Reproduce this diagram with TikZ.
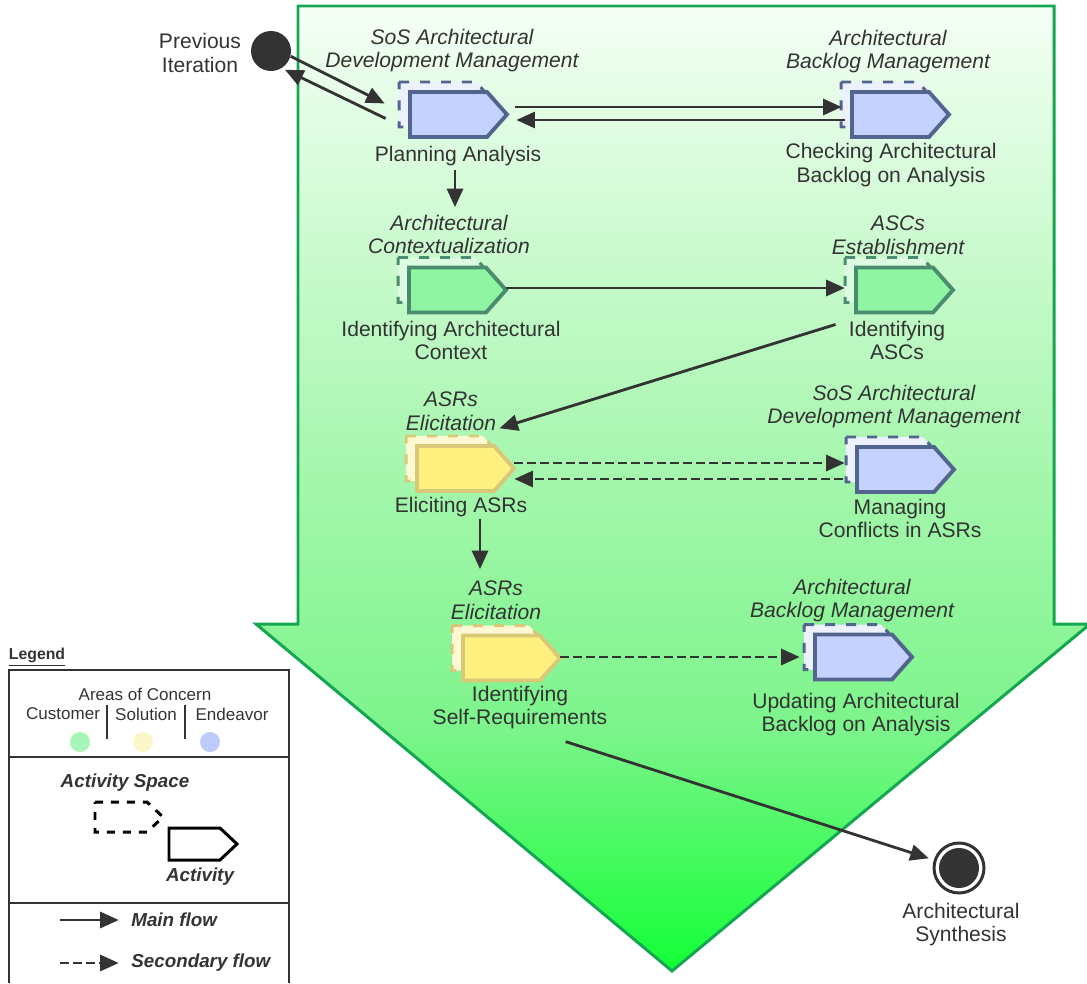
\documentclass[tikz,border=0pt]{standalone}
\usepackage{fontspec}
\setmainfont{Liberation Sans}
\usepackage{tikz}
\usetikzlibrary{calc,arrows.meta}

\definecolor{txtgray}{HTML}{333333}
\definecolor{arrowline}{HTML}{14A650}
\definecolor{arrowtop}{HTML}{F5FFF5}
\definecolor{arrowhigh}{HTML}{CBFACF}
\definecolor{arrowmid}{HTML}{A3F6AB}
\definecolor{arrowlow}{HTML}{7CF48B}
\definecolor{arrowbot}{HTML}{12FF36}
\definecolor{bluefill}{HTML}{C6D2FE}
\definecolor{blueline}{HTML}{52658F}
\definecolor{blueback}{HTML}{EDF1FD}
\definecolor{greenfill}{HTML}{8FF5A2}
\definecolor{greenline}{HTML}{4A8C6E}
\definecolor{greenback}{HTML}{DDFBE0}
\definecolor{yellowfill}{HTML}{FFF080}
\definecolor{yellowline}{HTML}{D9C878}
\definecolor{yellowback}{HTML}{FFF8D2}
\definecolor{custdot}{HTML}{A8F5B8}
\definecolor{soldot}{HTML}{FCF7C8}
\definecolor{enddot}{HTML}{BCCBFA}

\pgfdeclareverticalshading{bigarrow}{100bp}{color(0bp)=(arrowbot); color(25bp)=(arrowbot); color(37.5bp)=(arrowlow); color(50bp)=(arrowmid); color(62.5bp)=(arrowhigh); color(75bp)=(arrowtop); color(100bp)=(arrowtop)}

% name, position, fill, border, back fill
\newcommand{\actshape}[5]{%
  \begin{scope}[shift={#2}]
    \draw[#4, fill=#5, line width=1.7pt, dash pattern=on 0.2cm off 0.22cm]
      (-11,-32.5) -- (66,-32.5) -- (86,-10) -- (66,12.5) -- (-11,12.5) -- cycle;
    \draw[#4, fill=#3, line width=2.2pt]
      (0,-22.5) -- (77,-22.5) -- (97,0) -- (77,22.5) -- (0,22.5) -- cycle;
    \node[inner sep=0pt, minimum width=1.94cm, minimum height=0.9cm] (#1) at (48.5,0) {};
  \end{scope}}

\tikzset{
  acttitle/.style={font=\fontsize{12}{13.6}\selectfont\itshape, text=txtgray, align=center, inner sep=0pt},
  actname/.style={font=\fontsize{12}{13.6}\selectfont, text=txtgray, align=center, inner sep=0pt},
  legtext/.style={font=\fontsize{9.7}{11}\selectfont, text=txtgray, inner sep=0pt},
  legbold/.style={font=\fontsize{10.7}{12}\selectfont\bfseries\itshape, text=txtgray, inner sep=0pt},
  mainflow/.style={draw=txtgray, line width=1.6pt, -{Triangle[length=0.37cm, width=0.32cm]}},
  subflow/.style={mainflow, dash pattern=on 0.18cm off 0.08cm}
}

\begin{document}
\begin{tikzpicture}[x=0.02cm, y=-0.02cm]
    \useasboundingbox (0,0) rectangle (1087,983);

    \shade[shading=bigarrow] (298,6) -- (1054,6) -- (1054,624) -- (1090,624) -- (672,971) -- (256,624) -- (298,624) -- cycle;
    \draw[arrowline, line width=1.7pt] (298,6) -- (1054,6) -- (1054,624) -- (1090,624) -- (672,971) -- (256,624) -- (298,624) -- cycle;

    \actshape{plan}{(410,114.5)}{bluefill}{blueline}{blueback}
    \actshape{check}{(852,114.5)}{bluefill}{blueline}{blueback}
    \actshape{ctx}{(409,290)}{greenfill}{greenline}{greenback}
    \actshape{asc}{(856,290)}{greenfill}{greenline}{greenback}
    \actshape{elicit}{(417,468.5)}{yellowfill}{yellowline}{yellowback}
    \actshape{conflict}{(857,469.5)}{bluefill}{blueline}{blueback}
    \actshape{selfreq}{(463,658)}{yellowfill}{yellowline}{yellowback}
    \actshape{update}{(815,657)}{bluefill}{blueline}{blueback}

    \node[acttitle] (plantitle) at (452,50.5) {SoS Architectural\\Development Management};
    \node[actname] (planlbl) at (458,156) {Planning Analysis};
    \node[acttitle] (checktitle) at (888,51.5) {Architectural\\Backlog Management};
    \node[actname] (checklbl) at (891,165) {Checking Architectural\\Backlog on Analysis};
    \node[acttitle] (ctxtitle) at (449,234.5) {Architectural\\Contextualization};
    \node[actname] (ctxlbl) at (451,340.5) {Identifying Architectural\\Context};
    \node[acttitle] (asctitle) at (898,235.5) {ASCs\\Establishment};
    \node[actname] (asclbl) at (897,340.5) {Identifying\\ASCs};
    \node[acttitle] (elicittitle) at (451,411.5) {ASRs\\Elicitation};
    \node[actname] (elicitlbl) at (461,507) {Eliciting ASRs};
    \node[acttitle] (conflicttitle) at (894,406.5) {SoS Architectural\\Development Management};
    \node[actname] (conflictlbl) at (900,518.5) {Managing\\Conflicts in ASRs};
    \node[acttitle] (selftitle) at (496,600.5) {ASRs\\Elicitation};
    \node[actname] (selflbl) at (520,707.5) {Identifying\\Self-Requirements};
    \node[acttitle] (updatetitle) at (852,600.5) {Architectural\\Backlog Management};
    \node[actname] (updatelbl) at (856,714.5) {Updating Architectural\\Backlog on Analysis};

    \node[circle, fill=txtgray, inner sep=0pt, minimum size=0.8cm] (start) at (271,51) {};
    \node[actname] (startlbl) at (200,53) {Previous\\Iteration};
    \node[circle, draw=txtgray, line width=1.7pt, inner sep=0pt, minimum size=1.0cm] (finish) at (959,868) {};
    \fill[txtgray] (finish.center) circle (20);
    \node[actname] (finishlbl) at (961,924.5) {Architectural\\Synthesis};

    \draw[mainflow] (start.-15) -- ($(plan.west)+(-25,-11)$);
    \draw[mainflow, shorten >=2pt] ($(plan.west)+(-24,4)$) -- (start.-58);
    \draw[mainflow] ($(plan.east)+(8,-7.5)$) -- ($(check.west)+(-10,-7.5)$);
    \draw[mainflow] ($(check.west)+(-7,5.5)$) -- ($(plan.east)+(9,5.5)$);
    \draw[mainflow] ($(planlbl.south)+(-3,4)$) -- ($(planlbl.south)+(-3,41)$);
    \draw[mainflow] ($(ctx.east)+(0,-2)$) -- ($(asc.west)+(-11,-2)$);
    \draw[mainflow] ($(asclbl.north west)+(-13,4)$) -- ($(elicittitle.south east)+(3,-3)$);
    \draw[subflow] ($(elicit.east)+(0,-5.5)$) -- ($(conflict.west)+(-12,-6.5)$);
    \draw[subflow] ($(conflict.west)+(-14,9.5)$) -- ($(elicit.east)+(0,10.5)$);
    \draw[mainflow] ($(elicitlbl.south)+(19,2)$) -- ($(elicitlbl.south)+(19,52)$);
    \draw[subflow] ($(selfreq.east)+(0,-1)$) -- ($(update.west)+(-15,0)$);
    \draw[mainflow, shorten >=3pt] ($(selflbl.south east)+(-42,12)$) -- (finish);

    \node[font=\fontsize{9}{11}\selectfont\bfseries, text=txtgray, inner sep=0pt] (legtitle) at (37,657) {\underline{Legend}};
    \draw[txtgray, line width=1.6pt] (9,983) -- (9,670) -- (289,670) -- (289,983);
    \draw[txtgray, line width=1.6pt] (9,757) -- (289,757);
    \draw[txtgray, line width=1.6pt] (9,903) -- (289,903);

    \node[legtext] (areas) at (145,694) {Areas of Concern};
    \node[legtext] (cust) at (63,714) {Customer};
    \node[legtext] (sol) at (146,714) {Solution};
    \node[legtext] (endv) at (232,714) {Endeavor};
    \draw[txtgray, line width=1.7pt] (107,705) -- (107,739);
    \draw[txtgray, line width=1.7pt] (185,705) -- (185,739);
    \fill[custdot] (80,742) circle (10);
    \fill[soldot] (143,742) circle (10);
    \fill[enddot] (210,742) circle (10);

    \node[legbold] (spacelbl) at (125,783) {Activity Space};
    \draw[black, line width=1.7pt, dash pattern=on 0.16cm off 0.16cm] (95,802) -- (147,802) -- (163,817) -- (147,832) -- (95,832) -- cycle;
    \draw[black, line width=1.7pt] (169,828) -- (220,828) -- (237,844) -- (220,860) -- (169,860) -- cycle;
    \node[legbold] (actlbl) at (200,877) {Activity};

    \node[legbold, anchor=west] (mainlbl) at (131,920) {Main flow};
    \coordinate (mainfrom) at (60,920);
    \draw[mainflow, shorten >=7pt] (mainfrom) -- (mainlbl.west);
    \node[legbold, anchor=west] (sublbl) at (131,963) {Secondary flow};
    \coordinate (subfrom) at (60,963);
    \draw[subflow, shorten >=7pt] (subfrom) -- (sublbl.west);
\end{tikzpicture}
\end{document}
